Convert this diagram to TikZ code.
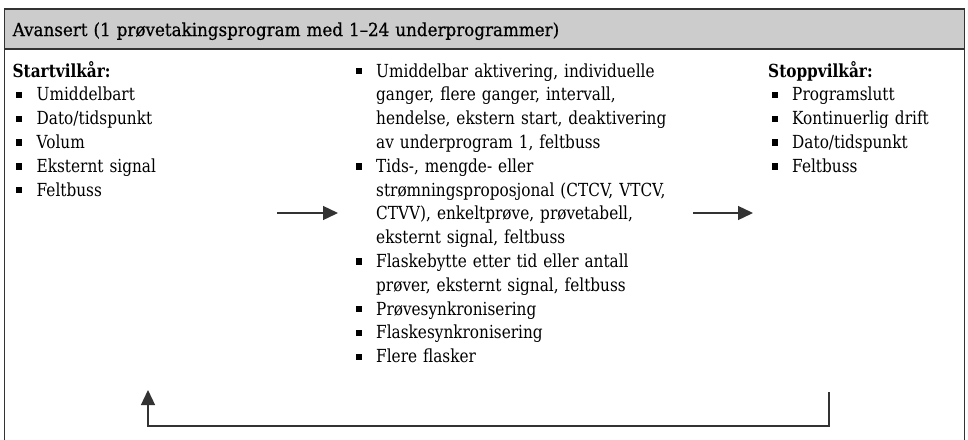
\documentclass[tikz,border=0pt]{standalone}
\usepackage{fontspec}
\setmainfont{DejaVu Serif}[FakeStretch=0.85]
\newfontfamily\headfont{DejaVu Serif}[FakeStretch=0.93, FakeBold=0.6]
\usetikzlibrary{arrows.meta}

\definecolor{framecol}{HTML}{333333}
\definecolor{headfill}{HTML}{CCCCCC}

% square list bullet followed by the indent of the item text
\newcommand\sqbul{\makebox[24pt][l]{\hspace{3.5pt}\rule[2.6pt]{5.8pt}{6.4pt}}}
% indent of a continued item line
\newcommand\cont{\hspace*{24pt}}

\tikzset{
  txt/.style={anchor=base west, inner sep=0pt, align=left, text width=#1},
  frameline/.style={draw=framecol, line width=1.5pt},
  flow/.style={draw=framecol, line width=1.3pt,
    -{Triangle[length=15pt, width=14pt]}},
}

\begin{document}
\begin{tikzpicture}[x=1pt, y=-1pt, font=\fontsize{18}{23.8}\selectfont]
\useasboundingbox (0,0) rectangle (968,439);

% header band and open frame
\fill[headfill] (4.5,9) rectangle (964.5,49);
\draw[frameline] (4.5,445) -- (4.5,9) -- (964.5,9) -- (964.5,445);
\draw[frameline] (4.5,49) -- (964.5,49);

\node[txt=900pt, font=\headfont\fontsize{18}{23.8}\selectfont] (head) at (12.5,36)
  {Avansert (1 prøvetakingsprogram med 1–24 underprogrammer)};

% start conditions
\node[txt=250pt] (start) at (12.5,77) {%
  \textbf{Startvilkår:}\\
  \sqbul Umiddelbart\\
  \sqbul Dato/tidspunkt\\
  \sqbul Volum\\
  \sqbul Eksternt signal\\
  \sqbul Feltbuss};

% sampling options
\node[txt=380pt] (prog) at (352,77) {%
  \sqbul Umiddelbar aktivering, individuelle\\
  \cont ganger, flere ganger, intervall,\\
  \cont hendelse, ekstern start, deaktivering\\
  \cont av underprogram 1, feltbuss\\
  \sqbul Tids-, mengde- eller\\
  \cont strømningsproposjonal (CTCV, VTCV,\\
  \cont CTVV), enkeltprøve, prøvetabell,\\
  \cont eksternt signal, feltbuss\\
  \sqbul Flaskebytte etter tid eller antall\\
  \cont prøver, eksternt signal, feltbuss\\
  \sqbul Prøvesynkronisering\\
  \sqbul Flaskesynkronisering\\
  \sqbul Flere flasker};

% stop conditions
\node[txt=190pt] (stop) at (768,77) {%
  \textbf{Stoppvilkår:}\\
  \sqbul Programslutt\\
  \sqbul Kontinuerlig drift\\
  \sqbul Dato/tidspunkt\\
  \sqbul Feltbuss};

% connectors
\coordinate (a1s) at (277,213);
\coordinate (a1e) at (338,213);
\coordinate (a2s) at (693,213);
\coordinate (a2e) at (753,213);
\coordinate (loopR) at (829,392);
\coordinate (loopL) at (148,390);

\draw[flow] (a1s) -- (a1e);
\draw[flow] (a2s) -- (a2e);
\draw[flow] (loopR) -- ++(0,34) -| (loopL);
\end{tikzpicture}
\end{document}
